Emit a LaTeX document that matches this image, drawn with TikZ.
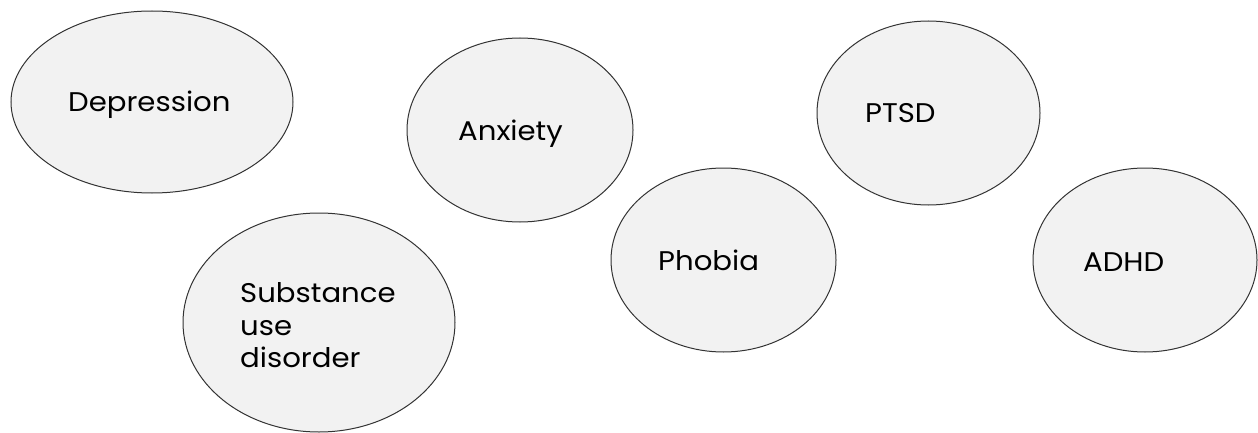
\documentclass[tikz,border=0pt]{standalone}
\usepackage{fontspec}
\setmainfont[FakeStretch=1.08]{Poppins}
\usetikzlibrary{shapes.geometric}
\definecolor{efill}{HTML}{F2F2F2}
\definecolor{eline}{HTML}{333333}
\tikzset{
  blob/.style={ellipse, draw=eline, fill=efill, line width=1pt, inner sep=0pt},
  lbl/.style={anchor=base west, inner sep=0pt, font=\fontsize{27}{32}\selectfont, text=black},
}
\begin{document}
\begin{tikzpicture}[x=1pt,y=-1pt]
\useasboundingbox (0,0) rectangle (1258,433);
\node[blob, minimum width=282pt, minimum height=182pt] (dep) at (152,102) {};
\node[blob, minimum width=272pt, minimum height=219pt] (sud) at (319,322.5) {};
\node[blob, minimum width=226pt, minimum height=184pt] (anx) at (520,130) {};
\node[blob, minimum width=225pt, minimum height=184pt] (pho) at (723.5,260) {};
\node[blob, minimum width=223pt, minimum height=184pt] (pts) at (928.5,113) {};
\node[blob, minimum width=224pt, minimum height=184pt] (adh) at (1145,260) {};
\node[lbl] (depT) at (68,112) {Depression};
\node[lbl] (sudT1) at (240,302) {Substance};
\node[lbl] (sudT2) at (240,335) {use};
\node[lbl] (sudT3) at (240,367) {disorder};
\node[lbl] (anxT) at (458,140) {Anxiety};
\node[lbl] (phoT) at (658,270) {Phobia};
\node[lbl] (ptsT) at (865,123) {PTSD};
\node[lbl] (adhT) at (1083,271) {ADHD};
\end{tikzpicture}
\end{document}
